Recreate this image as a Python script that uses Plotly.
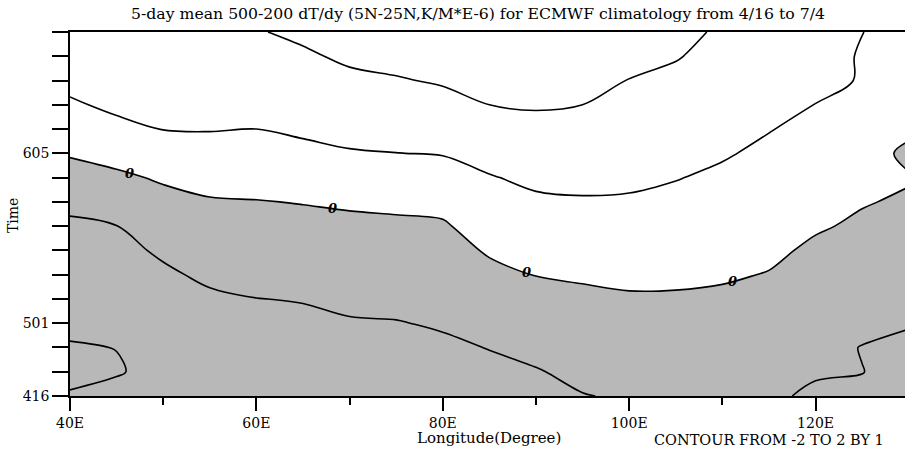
import plotly.graph_objects as go

# Longitudes (degrees East) and pentads (time axis index)
lons = [40, 45, 50, 55, 60, 65, 70, 75, 80, 85, 90, 95, 100, 105, 110, 115, 120, 125, 130]
pentad_labels = ["416", "421", "426", "501", "506", "511", "516", "521",
                 "526", "531", "605", "610", "615", "620", "625", "630"]
shown_labels = ["416", "501", "605"]
x_tick_values = [40, 60, 80, 100, 120]
x_tick_labels = ["40E", "60E", "80E", "100E", "120E"]
x_minor_values = [50, 70, 90, 110, 130]
zero_label_lons = [46.4, 68.2, 89.0, 111.1]

# dT/dy (K/m * 1e-6), one list per longitude, pentad 0..15 (bottom to top)
col_40 = [-1.9, -2.3, -2.05, -1.86, -1.68, -1.49, -1.30, -1.12, -0.83, -0.37, 0.08, 0.47, 0.87, 1.27, 1.6, 1.9]
col_45 = [-1.8, -2.05, -1.99, -1.79, -1.60, -1.40, -1.21, -1.01, -0.59, -0.15, 0.29, 0.75, 1.2, 1.45, 1.7, 1.9]
col_50 = [-1.72, -1.8, -1.55, -1.45, -1.3, -1.12, -0.89, -0.57, -0.25, 0.10, 0.56, 1.02, 1.3, 1.55, 1.75, 1.95]
col_55 = [-1.6, -1.5, -1.4, -1.28, -1.12, -0.86, -0.60, -0.33, -0.07, 0.28, 0.66, 1.04, 1.3, 1.52, 1.72, 1.9]
col_60 = [-1.55, -1.45, -1.32, -1.18, -1.01, -0.76, -0.52, -0.27, -0.03, 0.31, 0.65, 1.0, 1.35, 1.6, 1.8, 1.95]
col_65 = [-1.5, -1.4, -1.27, -1.13, -0.97, -0.72, -0.47, -0.23, 0.03, 0.42, 0.80, 1.13, 1.39, 1.64, 1.89, 2.15]
col_70 = [-1.45, -1.35, -1.22, -1.06, -0.84, -0.61, -0.39, -0.17, 0.10, 0.52, 0.94, 1.25, 1.54, 1.84, 2.13, 2.4]
col_75 = [-1.4, -1.3, -1.18, -1.03, -0.81, -0.58, -0.36, -0.14, 0.16, 0.57, 0.99, 1.31, 1.62, 1.94, 2.25, 2.5]
col_80 = [-1.35, -1.25, -1.12, -0.93, -0.72, -0.51, -0.30, -0.09, 0.23, 0.64, 1.04, 1.39, 1.74, 2.08, 2.4, 2.7]
col_85 = [-1.3, -1.15, -0.98, -0.72, -0.46, -0.19, 0.08, 0.37, 0.66, 0.95, 1.29, 1.65, 2.0, 2.3, 2.6, 2.9]
col_90 = [-1.2, -1.05, -0.78, -0.52, -0.25, 0.02, 0.30, 0.59, 0.87, 1.17, 1.47, 1.77, 2.07, 2.35, 2.6, 2.85]
col_95 = [-1.03, -0.81, -0.59, -0.37, -0.15, 0.09, 0.37, 0.65, 0.93, 1.20, 1.47, 1.74, 2.0, 2.3, 2.6, 2.85]
col_100 = [-0.92, -0.74, -0.52, -0.30, -0.08, 0.16, 0.41, 0.67, 0.92, 1.14, 1.35, 1.56, 1.77, 1.98, 2.19, 2.4]
col_105 = [-0.87, -0.70, -0.51, -0.30, -0.08, 0.14, 0.36, 0.59, 0.81, 1.03, 1.23, 1.43, 1.63, 1.82, 2.05, 2.2]
col_110 = [-0.88, -0.72, -0.53, -0.33, -0.12, 0.08, 0.28, 0.47, 0.67, 0.87, 1.07, 1.24, 1.41, 1.58, 1.74, 1.9]
col_115 = [-0.95, -0.79, -0.59, -0.40, -0.21, -0.03, 0.14, 0.32, 0.50, 0.67, 0.85, 1.03, 1.2, 1.36, 1.52, 1.67]
col_120 = [-1.05, -0.97, -0.80, -0.64, -0.48, -0.30, -0.12, 0.07, 0.25, 0.44, 0.62, 0.80, 0.99, 1.17, 1.35, 1.5]
col_125 = [-1.15, -0.99, -1.02, -0.82, -0.62, -0.43, -0.26, -0.10, 0.04, 0.18, 0.32, 0.46, 0.75, 0.96, 0.93, 1.01]
col_130 = [-1.3, -1.1, -1.15, -0.95, -0.75, -0.55, -0.38, -0.22, -0.08, 0.05, -0.15, 0.15, 0.30, 0.45, 0.60, 0.75]

columns = [col_40, col_45, col_50, col_55, col_60, col_65, col_70, col_75, col_80, col_85,
           col_90, col_95, col_100, col_105, col_110, col_115, col_120, col_125, col_130]
pentads = list(range(len(pentad_labels)))
z = [[columns[i][j] for i in range(len(lons))] for j in range(len(pentads))]


def zero_crossing(lon):
    """Pentad position where the field (linearly interpolated) first crosses 0."""
    col = None
    for i in range(len(lons) - 1):
        if lons[i] <= lon <= lons[i + 1]:
            t = (lon - lons[i]) / (lons[i + 1] - lons[i])
            col = [(1 - t) * a + t * b for a, b in zip(columns[i], columns[i + 1])]
            break
    if col is None:
        return None
    for j in range(len(col) - 1):
        if col[j] < 0 <= col[j + 1]:
            return j + (-col[j]) / (col[j + 1] - col[j])
    return None


FONT = "DejaVu Serif"
SHADE = "#b8b8b8"

fig = go.Figure()
fig.add_trace(go.Contour(
    x=lons, y=pentads, z=z, zmin=-3, zmax=3,
    contours=dict(start=-2, end=2, size=1, coloring="fill"),
    colorscale=[[0, SHADE], [0.5, SHADE], [0.5, "white"], [1, "white"]],
    line=dict(width=0), showscale=False, hoverinfo="skip",
))
fig.add_trace(go.Contour(
    x=lons, y=pentads, z=z,
    contours=dict(start=-2, end=2, size=1, coloring="none"),
    line=dict(color="black", width=1.6), showscale=False, hoverinfo="skip",
))

ytext = [p if p in shown_labels else "" for p in pentad_labels]

annotations = [
    dict(text="5-day mean 500-200 dT/dy (5N-25N,K/M*E-6) for ECMWF climatology from 4/16 to 7/4",
         xref="paper", yref="paper", x=0.4886, y=1.052, showarrow=False,
         xanchor="center", yanchor="middle", font=dict(family=FONT, size=15.7)),
    dict(text="Time", xref="paper", yref="paper", x=-0.0683, y=0.497,
         showarrow=False, textangle=-90, xanchor="center", yanchor="middle",
         font=dict(family=FONT, size=14)),
    dict(text="Longitude(Degree)", xref="paper", yref="paper", x=0.502, y=-0.115,
         showarrow=False, xanchor="center", yanchor="middle",
         font=dict(family=FONT, size=15)),
    dict(text="CONTOUR FROM -2 TO 2 BY 1", xref="paper", yref="paper", x=0.837, y=-0.121,
         showarrow=False, xanchor="center", yanchor="middle",
         font=dict(family=FONT, size=14.5)),
]
for lon in zero_label_lons:
    yc = zero_crossing(lon)
    if yc is not None:
        annotations.append(dict(text="0", x=lon, y=yc, xref="x", yref="y", showarrow=False,
                                xanchor="center", yanchor="middle",
                                font=dict(family=FONT, size=13, style="italic", weight="bold")))

fig.update_layout(
    width=905, height=449,
    margin=dict(l=70, r=0, t=32, b=53),
    paper_bgcolor="white", plot_bgcolor="white",
    showlegend=False,
    font=dict(family=FONT, size=14, color="black"),
    xaxis=dict(range=[40, 129.6], showgrid=False, zeroline=False,
               showline=True, linecolor="black", linewidth=1.5, mirror=True,
               ticks="outside", ticklen=13, tickwidth=1.5, tickcolor="black",
               tickvals=x_tick_values, ticktext=x_tick_labels,
               tickfont=dict(family=FONT, size=14),
               minor=dict(tickvals=x_minor_values, ticks="outside", ticklen=7,
                          tickwidth=1.5, tickcolor="black")),
    yaxis=dict(range=[0, 15], showgrid=False, zeroline=False,
               showline=True, linecolor="black", linewidth=1.5, mirror=False,
               ticks="outside", ticklen=16, tickwidth=1.5, tickcolor="black",
               tickvals=pentads, ticktext=ytext,
               tickfont=dict(family=FONT, size=14)),
    annotations=annotations,
)

fig.write_html("out.html", config={"displayModeBar": False},
               post_script="document.body.style.margin='0';document.body.style.padding='0';")
